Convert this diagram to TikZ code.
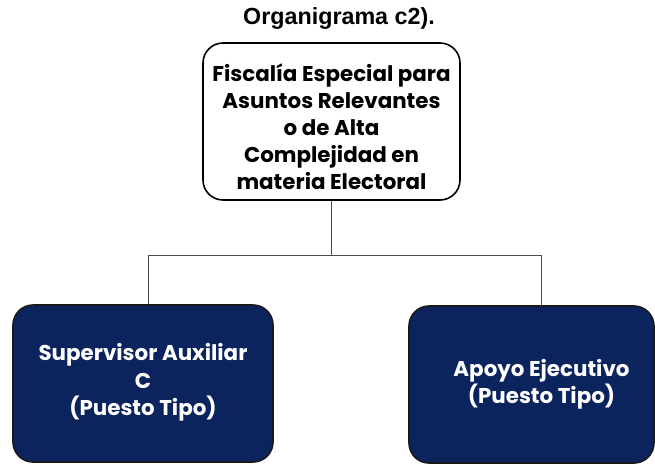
\documentclass[tikz,border=0pt]{standalone}
\usepackage{fontspec}
\setmainfont{Liberation Sans}
\newfontfamily\boxfont{Poppins}
\usepackage{tikz}
\usetikzlibrary{positioning}
\definecolor{navyfill}{RGB}{12,36,94}
\tikzset{
    title/.style={font=\fontsize{23.3}{26}\selectfont\bfseries},
    head/.style={rectangle, rounded corners=20pt, draw=black, line width=1.6pt, fill=white, align=center, minimum width=257pt, minimum height=157pt, inner sep=0pt, font=\boxfont\fontsize{21.4}{26.8}\selectfont\bfseries},
    post/.style={rectangle, rounded corners=20pt, draw=black!90, line width=1.6pt, fill=navyfill, text=white, align=center, minimum height=157pt, inner sep=0pt, font=\boxfont\fontsize{21.4}{27.5}\selectfont\bfseries},
    link/.style={draw=black!70, line width=0.8pt}
}

\begin{document}
\begin{tikzpicture}[x=1pt, y=-1pt]
        \useasboundingbox (0,0) rectangle (655,464);
        % Title
        \node[title] (Title) at (339,18.5) {Organigrama c2).};

        % Head office
        \node[head] (Fiscalia) at (331.5,121.5) {\rule{0pt}{28pt}Fiscalía Especial para\\Asuntos Relevantes\\o de Alta\\Complejidad en\\materia Electoral};

        % Posts
        \node[post, minimum width=260pt] (Supervisor) at (143,383.5) {Supervisor Auxiliar\\C\\(Puesto Tipo)\rule[-8pt]{0pt}{8pt}};
        \node[post, minimum width=245pt] (Apoyo) at (531.5,384.5) {\hspace*{20pt}Apoyo Ejecutivo\\\hspace*{20pt}(Puesto Tipo)};

        % Links
        \coordinate (Split) at (331.5,255);
        \draw[link] (Fiscalia.south) -- (Split);
        \draw[link] (Split) -| ([xshift=5pt]Supervisor.north);
        \draw[link] (Split) -| ([xshift=9.5pt]Apoyo.north);
\end{tikzpicture}
\end{document}
